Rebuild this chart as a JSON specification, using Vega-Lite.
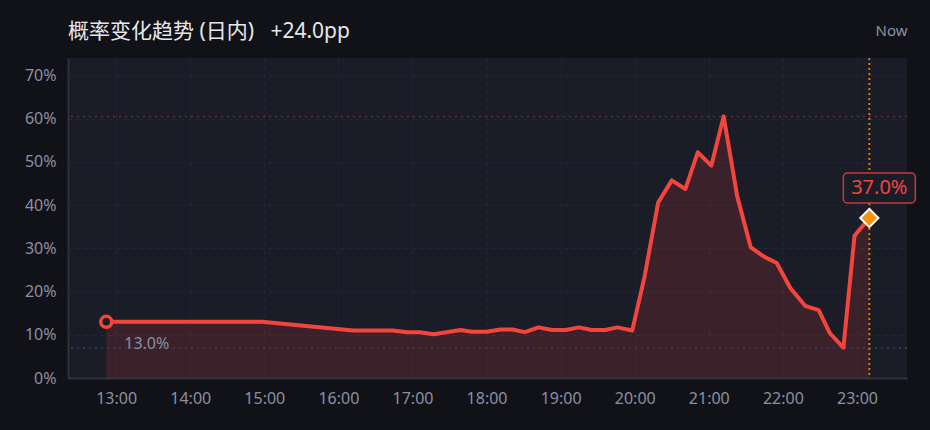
{
  "$schema": "https://vega.github.io/schema/vega-lite/v6.json",
  "width": 839,
  "height": 320,
  "autosize": "none",
  "padding": {"left": 68, "top": 58, "right": 23, "bottom": 52},
  "background": "#111217",
  "title": {
    "text": "概率变化趋势 (日内)\u00a0\u00a0\u00a0+24.0pp",
    "anchor": "start",
    "frame": "group",
    "font": "Noto Sans, Noto Sans CJK SC",
    "fontSize": 21,
    "fontWeight": "normal",
    "color": "#e6e7eb",
    "offset": -19
  },
  "config": {
    "view": {"fill": "#1a1c27", "stroke": null},
    "font": "Noto Sans",
    "axis": {
      "labelFont": "Noto Sans",
      "labelFontSize": 16,
      "labelColor": "#8b8fa3",
      "ticks": false,
      "domainColor": "#2e3040",
      "domainWidth": 2,
      "gridColor": "#252736",
      "gridDash": [4, 4],
      "gridWidth": 1,
      "labelPadding": 12
    }
  },
  "datasets": {
    "ds_series": [
      {"t": "2024-01-01T12:52:00", "v": 13.0},
      {"t": "2024-01-01T14:58:00", "v": 13.0},
      {"t": "2024-01-01T16:12:00", "v": 11.0},
      {"t": "2024-01-01T16:44:00", "v": 11.0},
      {"t": "2024-01-01T16:56:00", "v": 10.6},
      {"t": "2024-01-01T17:06:00", "v": 10.6},
      {"t": "2024-01-01T17:17:00", "v": 10.1},
      {"t": "2024-01-01T17:39:00", "v": 11.1},
      {"t": "2024-01-01T17:48:00", "v": 10.7},
      {"t": "2024-01-01T18:00:00", "v": 10.7},
      {"t": "2024-01-01T18:11:00", "v": 11.2},
      {"t": "2024-01-01T18:21:00", "v": 11.2},
      {"t": "2024-01-01T18:31:00", "v": 10.6},
      {"t": "2024-01-01T18:42:00", "v": 11.7},
      {"t": "2024-01-01T18:53:00", "v": 11.1},
      {"t": "2024-01-01T19:04:00", "v": 11.1},
      {"t": "2024-01-01T19:15:00", "v": 11.7},
      {"t": "2024-01-01T19:25:00", "v": 11.1},
      {"t": "2024-01-01T19:36:00", "v": 11.1},
      {"t": "2024-01-01T19:46:00", "v": 11.7},
      {"t": "2024-01-01T19:58:00", "v": 11.0},
      {"t": "2024-01-01T20:08:00", "v": 23.5},
      {"t": "2024-01-01T20:19:00", "v": 40.6},
      {"t": "2024-01-01T20:30:00", "v": 45.7},
      {"t": "2024-01-01T20:41:00", "v": 43.7},
      {"t": "2024-01-01T20:51:00", "v": 52.2},
      {"t": "2024-01-01T21:02:00", "v": 49.1},
      {"t": "2024-01-01T21:12:00", "v": 60.5},
      {"t": "2024-01-01T21:23:00", "v": 42.0},
      {"t": "2024-01-01T21:34:00", "v": 30.2},
      {"t": "2024-01-01T21:45:00", "v": 28.0},
      {"t": "2024-01-01T21:55:00", "v": 26.6},
      {"t": "2024-01-01T22:06:00", "v": 20.8},
      {"t": "2024-01-01T22:18:00", "v": 16.7},
      {"t": "2024-01-01T22:29:00", "v": 15.7},
      {"t": "2024-01-01T22:38:00", "v": 10.4},
      {"t": "2024-01-01T22:49:00", "v": 7.0},
      {"t": "2024-01-01T22:58:00", "v": 32.9},
      {"t": "2024-01-01T23:10:00", "v": 37.0}
    ],
    "ds_first": [{"t": "2024-01-01T12:52:00", "v": 13.0, "label": "13.0%"}],
    "ds_last": [{"t": "2024-01-01T23:10:00", "v": 37.0, "label": "37.0%"}],
    "ds_refs": [{"kind": "max", "v": 60.5}, {"kind": "min", "v": 7.0}]
  },
  "resolve": {"axis": {"x": "independent"}},
  "layer": [
    {
      "data": {"name": "ds_series"},
      "mark": {"type": "area", "color": "#f2453d", "opacity": 0.15},
      "encoding": {
        "x": {
          "field": "t",
          "type": "temporal",
          "scale": {
            "domain": [
              {"year": 2024, "month": 1, "date": 1, "hours": 12, "minutes": 21},
              {"year": 2024, "month": 1, "date": 1, "hours": 23, "minutes": 40, "seconds": 30}
            ]
          },
          "axis": {
            "title": null,
            "format": "%H:%M",
            "values": [
              {"year": 2024, "month": 1, "date": 1, "hours": 13},
              {"year": 2024, "month": 1, "date": 1, "hours": 14},
              {"year": 2024, "month": 1, "date": 1, "hours": 15},
              {"year": 2024, "month": 1, "date": 1, "hours": 16},
              {"year": 2024, "month": 1, "date": 1, "hours": 17},
              {"year": 2024, "month": 1, "date": 1, "hours": 18},
              {"year": 2024, "month": 1, "date": 1, "hours": 19},
              {"year": 2024, "month": 1, "date": 1, "hours": 20},
              {"year": 2024, "month": 1, "date": 1, "hours": 21},
              {"year": 2024, "month": 1, "date": 1, "hours": 22},
              {"year": 2024, "month": 1, "date": 1, "hours": 23}
            ],
            "grid": true
          }
        },
        "y": {
          "field": "v",
          "type": "quantitative",
          "scale": {"domain": [0, 74], "nice": false},
          "axis": {
            "title": null,
            "values": [0, 10, 20, 30, 40, 50, 60, 70],
            "labelExpr": "datum.value + '%'",
            "grid": true
          }
        }
      }
    },
    {
      "data": {"name": "ds_refs"},
      "mark": {"type": "rule", "strokeDash": [2, 4], "strokeWidth": 1.5},
      "encoding": {
        "y": {"field": "v", "type": "quantitative", "axis": {"title": null}},
        "color": {
          "field": "kind",
          "type": "nominal",
          "scale": {"domain": ["max", "min"], "range": ["#6e2a33", "#363d6e"]},
          "legend": null
        }
      }
    },
    {
      "data": {"name": "ds_series"},
      "mark": {"type": "line", "color": "#f2453d", "strokeWidth": 4, "strokeJoin": "round"},
      "encoding": {
        "x": {"field": "t", "type": "temporal", "axis": null},
        "y": {"field": "v", "type": "quantitative", "axis": {"title": null}}
      }
    },
    {
      "data": {"name": "ds_last"},
      "mark": {"type": "rule", "color": "#d97b0d", "strokeDash": [2, 3], "strokeWidth": 2},
      "encoding": {
        "x": {
          "field": "t",
          "type": "temporal",
          "axis": {
            "orient": "top",
            "title": "Now",
            "titleAnchor": "end",
            "titleColor": "#8b8fa3",
            "titleFont": "Noto Sans",
            "titleFontSize": 15,
            "titleFontWeight": "normal",
            "titlePadding": 20,
            "labels": false,
            "ticks": false,
            "domain": false,
            "grid": false
          }
        }
      }
    },
    {
      "data": {"name": "ds_first"},
      "mark": {"type": "point", "shape": "circle", "size": 120, "filled": true, "fill": "#1a1c27", "stroke": "#f2453d", "strokeWidth": 3.5, "opacity": 1},
      "encoding": {
        "x": {"field": "t", "type": "temporal", "axis": null},
        "y": {"field": "v", "type": "quantitative", "axis": {"title": null}}
      }
    },
    {
      "data": {"name": "ds_first"},
      "mark": {"type": "text", "align": "left", "baseline": "middle", "dx": 18, "dy": 22, "fontSize": 16, "color": "#8b8fa3"},
      "encoding": {
        "x": {"field": "t", "type": "temporal", "axis": null},
        "y": {"field": "v", "type": "quantitative", "axis": {"title": null}},
        "text": {"field": "label"}
      }
    },
    {
      "data": {"name": "ds_last"},
      "mark": {"type": "point", "shape": "diamond", "size": 330, "filled": true, "fill": "#f5930f", "stroke": "#ffffff", "strokeWidth": 2, "opacity": 1},
      "encoding": {
        "x": {"field": "t", "type": "temporal", "axis": null},
        "y": {"field": "v", "type": "quantitative", "axis": {"title": null}}
      }
    },
    {
      "data": {"name": "ds_last"},
      "mark": {"type": "rect", "width": 72, "height": 30, "xOffset": 10, "yOffset": -30, "cornerRadius": 4, "fill": "#1a1c27", "stroke": "#c8393a", "strokeWidth": 1.5},
      "encoding": {
        "x": {"field": "t", "type": "temporal", "axis": null},
        "y": {"field": "v", "type": "quantitative", "axis": {"title": null}}
      }
    },
    {
      "data": {"name": "ds_last"},
      "mark": {"type": "text", "align": "center", "baseline": "middle", "dx": 10, "dy": -30, "fontSize": 20, "color": "#f2453d"},
      "encoding": {
        "x": {"field": "t", "type": "temporal", "axis": null},
        "y": {"field": "v", "type": "quantitative", "axis": {"title": null}},
        "text": {"field": "label"}
      }
    }
  ]
}
